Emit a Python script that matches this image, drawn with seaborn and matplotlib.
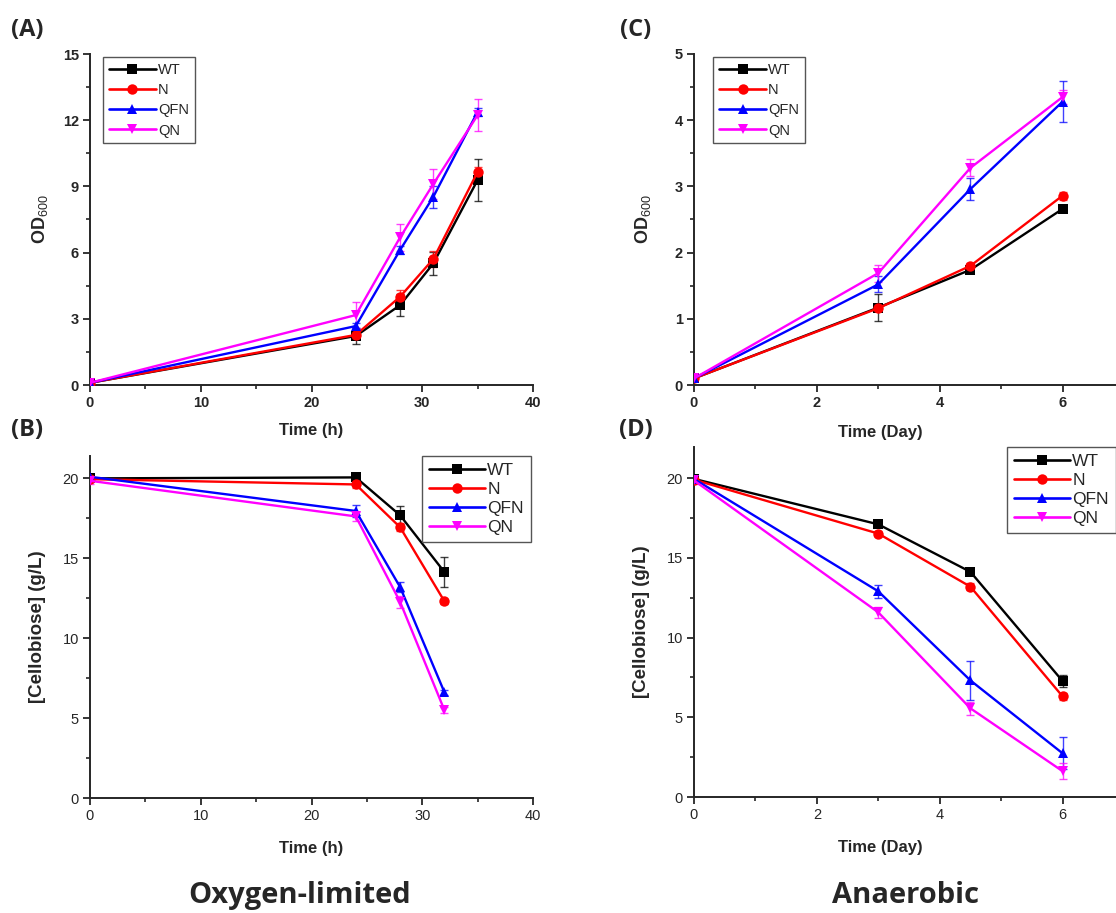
import pandas as pd
import matplotlib
matplotlib.use("Agg")
import matplotlib.pyplot as plt
from matplotlib.lines import Line2D
from matplotlib.ticker import MultipleLocator
import seaborn as sns

# ---- data -------------------------------------------------------------
strains = ["WT", "N", "QFN", "QN"]
colors = {"WT": "#000000", "N": "#ff0000", "QFN": "#0000ff", "QN": "#ff00ff"}
markers = {"WT": "s", "N": "o", "QFN": "^", "QN": "v"}

# (A) OD600, oxygen-limited
time_a = [0, 24, 28, 31, 35]
od_ox = {
    "WT": [0.1, 2.22, 3.62, 5.51, 9.29],
    "N": [0.1, 2.27, 4.0, 5.71, 9.66],
    "QFN": [0.1, 2.67, 6.12, 8.53, 12.38],
    "QN": [0.1, 3.17, 6.69, 9.11, 12.23],
}
od_ox_err = {
    "WT": [0.03, 0.36, 0.5, 0.53, 0.94],
    "N": [0.03, 0.12, 0.3, 0.38, 0.2],
    "QFN": [0.1, 0.15, 0.2, 0.5, 0.18],
    "QN": [0.03, 0.6, 0.6, 0.7, 0.73],
}

# (B) cellobiose, oxygen-limited
time_b = [0, 24, 28, 32]
cb_ox = {
    "WT": [20.0, 20.06, 17.69, 14.14],
    "N": [19.95, 19.62, 16.94, 12.31],
    "QFN": [20.1, 17.96, 13.2, 6.62],
    "QN": [19.85, 17.62, 12.27, 5.5],
}
cb_ox_err = {
    "WT": [0.1, 0.15, 0.57, 0.92],
    "N": [0.1, 0.2, 0.25, 0.15],
    "QFN": [0.2, 0.4, 0.3, 0.15],
    "QN": [0.2, 0.3, 0.4, 0.2],
}

# (C) OD600, anaerobic
time_c = [0, 3, 4.5, 6]
od_an = {
    "WT": [0.1, 1.17, 1.74, 2.66],
    "N": [0.1, 1.16, 1.80, 2.86],
    "QFN": [0.1, 1.52, 2.96, 4.28],
    "QN": [0.1, 1.69, 3.28, 4.35],
}
od_an_err = {
    "WT": [0.02, 0.21, 0.03, 0.03],
    "N": [0.02, 0.04, 0.04, 0.06],
    "QFN": [0.04, 0.12, 0.17, 0.31],
    "QN": [0.02, 0.13, 0.13, 0.1],
}

# (D) cellobiose, anaerobic
time_d = [0, 3, 4.5, 6]
cb_an = {
    "WT": [19.95, 17.1, 14.12, 7.27],
    "N": [19.9, 16.52, 13.19, 6.31],
    "QFN": [19.95, 12.9, 7.31, 2.74],
    "QN": [19.85, 11.58, 5.56, 1.62],
}
cb_an_err = {
    "WT": [0.1, 0.15, 0.15, 0.35],
    "N": [0.1, 0.15, 0.2, 0.2],
    "QFN": [0.25, 0.4, 1.2, 1.0],
    "QN": [0.25, 0.35, 0.4, 0.5],
}

# ---- style ------------------------------------------------------------
sns.set_style("ticks")
plt.rcParams["font.family"] = ["Liberation Sans", "DejaVu Sans"]
plt.rcParams["mathtext.fontset"] = "custom"
plt.rcParams["mathtext.rm"] = "Liberation Sans"
plt.rcParams["axes.linewidth"] = 1.4

W, H = 1116, 913
MS = 7.5
fig = plt.figure(figsize=(W / 100, H / 100), dpi=100)


def px_axes(left, right, top, bottom):
    """Axes placed by pixel edges of the figure."""
    return fig.add_axes([left / W, 1 - bottom / H, (right - left) / W, (bottom - top) / H])


def draw_panel(ax, times, values, errors, bold_ticks, leg_kw, leg_size, leg_spacing):
    rows = [{"time": t, "value": v, "strain": s}
            for s in strains for t, v in zip(times, values[s])]
    df = pd.DataFrame(rows)
    for s in strains:
        ax.errorbar(times, values[s], yerr=errors[s], fmt="none",
                    ecolor=colors[s], elinewidth=1.0, capsize=3, capthick=1.0,
                    alpha=0.75, zorder=2)
    sns.lineplot(data=df, x="time", y="value", hue="strain", style="strain",
                 hue_order=strains, style_order=strains, palette=colors,
                 markers=markers, dashes=False, markersize=MS,
                 markeredgewidth=0, linewidth=1.7, errorbar=None, ax=ax,
                 zorder=3, legend=False)
    handles = [Line2D([], [], color=colors[s], marker=markers[s], markersize=MS,
                      markeredgewidth=0, linewidth=1.9) for s in strains]
    leg = ax.legend(handles, strains, frameon=True, fancybox=False, edgecolor="#555555",
                    framealpha=1, borderaxespad=0, handlelength=3.2, handletextpad=0.15,
                    labelspacing=leg_spacing, borderpad=0.4, prop={"size": leg_size},
                    **leg_kw)
    leg.get_frame().set_linewidth(1.0)
    sns.despine(ax=ax)
    ax.tick_params(which="major", direction="out", length=5, width=1.3,
                   labelsize=10.5, pad=3)
    ax.tick_params(which="minor", direction="out", length=3, width=1.2)
    for lab in ax.get_xticklabels() + ax.get_yticklabels():
        lab.set_fontweight("bold" if bold_ticks else "normal")


def set_scale(ax, xmax, xmaj, ymax, ymaj):
    ax.set_xlim(0, xmax)
    ax.set_ylim(0, ymax)
    ax.xaxis.set_major_locator(MultipleLocator(xmaj))
    ax.xaxis.set_minor_locator(MultipleLocator(xmaj / 2))
    ax.yaxis.set_major_locator(MultipleLocator(ymaj))
    ax.yaxis.set_minor_locator(MultipleLocator(ymaj / 2))


def set_labels(ax, xl, yl, box, ylab_x, xlab_x, xlab_y, ysize):
    left, right, top, bottom = box
    ax.set_xlabel(xl, fontsize=12, fontweight="bold")
    ax.set_ylabel(yl, fontsize=ysize, fontweight="bold")
    ax.xaxis.label.set_va("center")
    ax.yaxis.label.set_va("center")
    ax.xaxis.set_label_coords((xlab_x - left) / (right - left), -(xlab_y - bottom) / (bottom - top))
    ax.yaxis.set_label_coords(-(left - ylab_x) / (right - left), 0.5)


# (A)
box_a = (90, 533, 54, 385)
axA = px_axes(*box_a)
draw_panel(axA, time_a, od_ox, od_ox_err, True,
           dict(loc="upper left", bbox_to_anchor=(0.03, 0.99)), 10.5, 0.42)
set_scale(axA, 40, 10, 15, 3)
set_labels(axA, "Time (h)", r"OD$_{\mathrm{600}}$", box_a, 40, 311, 430, 13)

# (B)
box_b = (90, 533, 456, 798)
axB = px_axes(*box_b)
draw_panel(axB, time_b, cb_ox, cb_ox_err, False,
           dict(loc="upper right", bbox_to_anchor=(0.995, 1.0)), 12.5, 0.22)
set_scale(axB, 40, 10, 21.4, 5)
set_labels(axB, "Time (h)", "[Cellobiose] (g/L)", box_b, 38, 311, 848, 13.5)

# (C)
box_c = (694, 1124, 54, 385)
axC = px_axes(*box_c)
draw_panel(axC, time_c, od_an, od_an_err, True,
           dict(loc="upper left", bbox_to_anchor=(0.045, 0.99)), 10.5, 0.42)
set_scale(axC, 7, 2, 5, 1)
set_labels(axC, "Time (Day)", r"OD$_{\mathrm{600}}$", box_c, 643, 880, 432, 13)

# (D)
box_d = (694, 1124, 447, 797)
axD = px_axes(*box_d)
draw_panel(axD, time_d, cb_an, cb_an_err, False,
           dict(loc="upper right", bbox_to_anchor=(0.981, 1.0)), 12.5, 0.22)
set_scale(axD, 7, 2, 21.95, 5)
set_labels(axD, "Time (Day)", "[Cellobiose] (g/L)", box_d, 641, 880, 847, 13.5)

# panel letters and condition titles
title_font = ["Open Sans", "DejaVu Sans"]
for txt, x, y in [("(A)", 27, 30), ("(B)", 27, 430), ("(C)", 636, 30), ("(D)", 636, 430)]:
    fig.text(x / W, 1 - y / H, txt, ha="center", va="center", fontsize=17,
             fontweight="bold", family=title_font)
fig.text(300 / W, 1 - 895 / H, "Oxygen-limited", ha="center", va="center",
         fontsize=21, fontweight="bold", family=title_font)
fig.text(905 / W, 1 - 895 / H, "Anaerobic", ha="center", va="center",
         fontsize=21, fontweight="bold", family=title_font)

fig.savefig("out.png", dpi=100)
